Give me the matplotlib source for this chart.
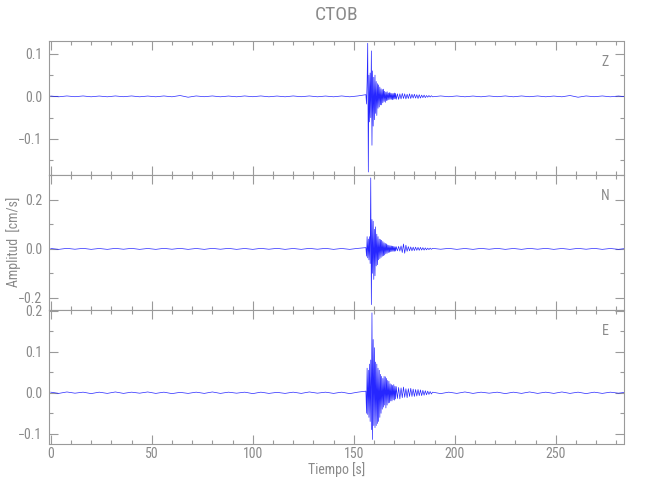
import numpy as np
import matplotlib
matplotlib.use("Agg")
import matplotlib.pyplot as plt
from matplotlib.ticker import MultipleLocator, FuncFormatter

# ---------------- data ----------------
station = "CTOB"
channels = ["Z", "N", "E"]
x_label = "Tiempo [s]"
y_label = "Amplitud  [cm/s]"

# sampling of the digitised extremes (seconds)
pre_start, pre_step = 0.0, 4.0
event_start, event_step = 156.0, 0.3
coda_start, coda_step = 171.0, 0.6
post_start, post_step = 189.0, 4.0

z_pre = [0.0008, -0.001, 0.001, -0.0008, 0.001, -0.001, 0.0008, -0.001, 0.001, -0.0008,
         0.001, -0.001, 0.0008, -0.001, 0.001, -0.001, 0.002, -0.002, 0.001, -0.0008,
         0.001, -0.001, 0.0008, -0.001, 0.001, -0.0008, 0.001, -0.001, 0.0008, -0.001,
         0.001, -0.0008, 0.001, -0.001, 0.0008, -0.001, 0.001, -0.001, 0.001]
z_event = [0.004, -0.018, 0.035, 0.125, -0.178, 0.05, -0.06, 0.055, -0.05, 0.107,
           -0.115, 0.06, -0.07, 0.045, -0.055, 0.05, -0.04, 0.035, -0.045, 0.03,
           -0.028, 0.027, -0.025, 0.022, -0.02, 0.018, -0.02, 0.016, -0.015, 0.017,
           -0.012, 0.012, -0.014, 0.01, -0.01, 0.011, -0.009, 0.008, -0.008, 0.009,
           -0.007, 0.008, -0.007, 0.007, -0.008, 0.007, -0.007, 0.008, -0.006, 0.007]
z_coda = [-0.007, 0.006, -0.007, 0.006, -0.006, 0.007, -0.005, 0.006, -0.006, 0.005,
          -0.005, 0.006, -0.005, 0.005, -0.004, 0.005, -0.004, 0.004, -0.005, 0.004,
          -0.004, 0.003, -0.003, 0.003, -0.003, 0.002, -0.002, 0.002, -0.0015, 0.0015]
z_post = [-0.001, 0.001, -0.0008, 0.001, -0.001, 0.0008, -0.001, 0.001, -0.0008, 0.001,
          -0.001, 0.001, -0.0008, 0.001, -0.001, 0.0008, -0.001, 0.002, -0.002, 0.001,
          -0.0008, 0.001, -0.001, 0.0008, -0.001]

n_pre = [0.0015, -0.002, 0.002, -0.0015, 0.002, -0.002, 0.0015, -0.002, 0.002, -0.0015,
         0.002, -0.002, 0.0015, -0.002, 0.002, -0.0015, 0.002, -0.002, 0.0015, -0.002,
         0.002, -0.0015, 0.002, -0.002, 0.0015, -0.002, 0.002, -0.0015, 0.002, -0.002,
         0.0015, -0.002, 0.002, -0.0015, 0.002, -0.002, 0.0015, -0.002, 0.002]
n_event = [0.005, -0.03, 0.05, -0.037, 0.04, -0.045, 0.05, -0.06, 0.29, -0.228,
           0.12, -0.1, 0.113, -0.125, 0.08, -0.11, 0.09, -0.07, 0.06, -0.065,
           0.05, -0.045, 0.04, -0.04, 0.038, -0.035, 0.035, -0.03, 0.03, -0.028,
           0.025, -0.025, 0.022, -0.02, 0.02, -0.018, 0.016, -0.015, 0.015, -0.014,
           0.013, -0.012, 0.012, -0.011, 0.011, -0.01, 0.01, -0.01, 0.009, -0.009]
n_coda = [0.009, -0.008, 0.01, -0.009, 0.012, -0.015, 0.02, -0.018, 0.015, -0.01,
          0.009, -0.008, 0.008, -0.008, 0.007, -0.007, 0.007, -0.006, 0.006, -0.006,
          0.006, -0.005, 0.005, -0.005, 0.004, -0.004, 0.003, -0.003, 0.003, -0.002]
n_post = [0.002, -0.0015, 0.002, -0.002, 0.0015, -0.002, 0.002, -0.0015, 0.002, -0.002,
          0.0015, -0.002, 0.002, -0.0015, 0.002, -0.002, 0.0015, -0.002, 0.002, -0.0015,
          0.002, -0.002, 0.0015, -0.002, 0.002]

e_pre = [0.0015, -0.0015, 0.002, -0.001, 0.0015, -0.002, 0.0015, -0.0015, 0.002, -0.0015,
         0.0015, -0.001, 0.002, -0.0015, 0.0015, -0.002, 0.001, -0.0015, 0.0015, -0.0015,
         0.002, -0.0015, 0.0015, -0.001, 0.0015, -0.002, 0.0015, -0.0015, 0.001, -0.0015,
         0.0015, -0.0015, 0.002, -0.001, 0.0015, -0.0015, 0.0015, -0.002, 0.0015]
e_event = [0.004, -0.05, 0.06, -0.053, 0.055, -0.06, 0.07, -0.07, 0.08, -0.09,
           0.195, -0.114, 0.13, -0.08, 0.11, -0.085, 0.075, -0.08, 0.07, -0.075,
           0.06, -0.07, 0.055, -0.06, 0.045, -0.05, 0.04, -0.04, 0.035, -0.035,
           0.04, -0.03, 0.039, -0.037, 0.035, -0.03, 0.03, -0.025, 0.028, -0.024,
           0.022, -0.02, 0.02, -0.02, 0.018, -0.017, 0.02, -0.018, 0.016, -0.015]
e_coda = [0.015, -0.014, 0.013, -0.015, 0.012, -0.012, 0.014, -0.011, 0.01, -0.012,
          0.01, -0.009, 0.011, -0.009, 0.009, -0.009, 0.008, -0.008, 0.008, -0.007,
          0.007, -0.007, 0.006, -0.006, 0.005, -0.005, 0.004, -0.004, 0.003, -0.003]
e_post = [0.0015, -0.002, 0.0015, -0.0015, 0.002, -0.0015, 0.0015, -0.001, 0.0015, -0.002,
          0.0015, -0.0015, 0.002, -0.0015, 0.0015, -0.0015, 0.002, -0.0015, 0.0015, -0.002,
          0.0015, -0.0015, 0.0015, -0.001, 0.0015]

traces = {
    "Z": (z_pre, z_event, z_coda, z_post),
    "N": (n_pre, n_event, n_coda, n_post),
    "E": (e_pre, e_event, e_coda, e_post),
}

# ---------------- styling / layout ----------------
GRAY_AX = "#9a9a9a"
GRAY_TX = "#8a8a8a"
TRACE = "#0000ff"
FONT = ["Liberation Sans Narrow", "Roboto Condensed", "DejaVu Sans"]
plt.rcParams["font.family"] = FONT

ylims = {"Z": (-0.185, 0.131), "N": (-0.25, 0.302), "E": (-0.125, 0.202)}
ymajor = {"Z": 0.1, "N": 0.2, "E": 0.1}
yminor = {"Z": 0.05, "N": 0.1, "E": 0.05}

W, H = 650, 500
left_px, right_px = 49, 623.5
bounds_px = {"Z": (40.7, 175.0), "N": (175.0, 310.0), "E": (310.0, 444.0)}


def build_time(pre, ev, co, po):
    t = np.concatenate([
        pre_start + pre_step * np.arange(len(pre)),
        event_start + event_step * np.arange(len(ev)),
        coda_start + coda_step * np.arange(len(co)),
        post_start + post_step * np.arange(len(po)),
    ])
    a = np.concatenate([pre, ev, co, po])
    return t, a


def fmt(v, pos):
    if abs(v) < 1e-9:
        v = 0.0
    return f"{v:.1f}".replace("-", "\u2212")


fig = plt.figure(figsize=(W / 100, H / 100), dpi=100)
fig.patch.set_facecolor("white")

for ch in channels:
    top, bot = bounds_px[ch]
    ax = fig.add_axes([left_px / W, 1 - bot / H, (right_px - left_px) / W, (bot - top) / H])
    t, a = build_time(*traces[ch])
    ax.plot(t, a, color=TRACE, lw=0.5, alpha=0.85)
    ax.set_xlim(-0.85, 283.5)
    ax.set_ylim(*ylims[ch])
    ax.xaxis.set_major_locator(MultipleLocator(50))
    ax.xaxis.set_minor_locator(MultipleLocator(10))
    ax.yaxis.set_major_locator(MultipleLocator(ymajor[ch]))
    ax.yaxis.set_minor_locator(MultipleLocator(yminor[ch]))
    ax.yaxis.set_major_formatter(FuncFormatter(fmt))
    for s in ax.spines.values():
        s.set_color(GRAY_AX)
        s.set_linewidth(0.8)
    ax.tick_params(which="both", direction="in", top=True, right=True,
                   color=GRAY_AX, width=0.8, labelcolor=GRAY_TX, labelsize=10)
    ax.tick_params(which="major", length=6.5)
    ax.tick_params(which="minor", length=3.0)
    ax.tick_params(axis="y", pad=5)
    ax.tick_params(axis="x", pad=2)
    if ch != "E":
        ax.tick_params(axis="x", labelbottom=False)
    ax.text(0.968, 0.845, ch, transform=ax.transAxes, ha="center", va="center",
            color=GRAY_TX, fontsize=10)

fig.text((left_px + right_px) / 2 / W, 1 - 15 / H, station, ha="center", va="center",
         color=GRAY_TX, fontsize=14)
fig.text((left_px + right_px) / 2 / W, 1 - 470 / H, x_label, ha="center", va="center",
         color=GRAY_TX, fontsize=10)
fig.text(14 / W, 1 - 242 / H, y_label, ha="center", va="center", rotation=90,
         color=GRAY_TX, fontsize=10)

fig.savefig("out.png", dpi=100, facecolor="white")
